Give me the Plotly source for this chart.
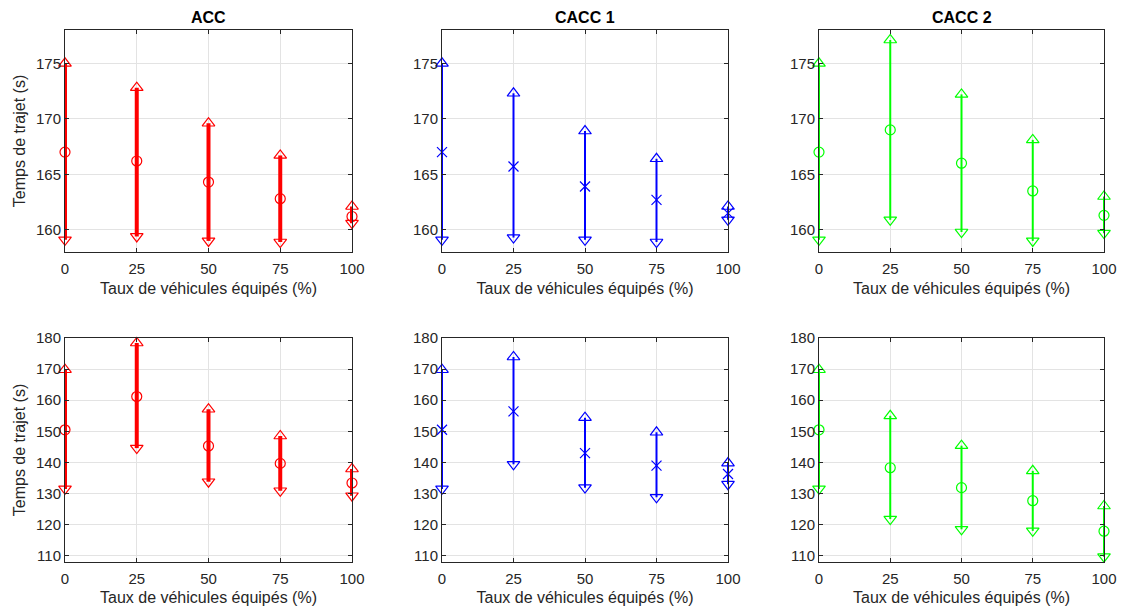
import plotly.graph_objects as go

# ---------------- data ----------------
rates = [0, 25, 50, 75, 100]
titles = ["ACC", "CACC 1", "CACC 2"]

# top row (scenario 1)
acc1_hi = [175.0, 172.8, 169.6, 166.7, 162.1]
acc1_mean = [167.0, 166.2, 164.3, 162.8, 161.2]
acc1_lo = [159.1, 159.4, 159.0, 158.9, 160.6]

cacc1_1_hi = [175.0, 172.3, 168.9, 166.4, 162.1]
cacc1_1_mean = [167.0, 165.7, 163.9, 162.7, 161.5]
cacc1_1_lo = [159.1, 159.3, 159.1, 158.9, 160.9]

cacc2_1_hi = [175.0, 177.1, 172.2, 168.1, 163.0]
cacc2_1_mean = [167.0, 169.0, 166.0, 163.5, 161.3]
cacc2_1_lo = [159.1, 160.9, 159.8, 159.0, 159.7]

# bottom row (scenario 2)
acc2_hi = [169.8, 178.4, 157.1, 148.5, 137.9]
acc2_mean = [150.5, 161.2, 145.3, 139.7, 133.4]
acc2_lo = [131.5, 144.6, 133.8, 130.9, 129.3]

cacc1_2_hi = [169.8, 173.9, 154.4, 149.7, 139.8]
cacc1_2_mean = [150.5, 156.4, 143.0, 139.0, 136.3]
cacc1_2_lo = [131.5, 139.4, 131.9, 128.8, 133.0]

cacc2_2_hi = [169.8, 155.0, 145.4, 137.3, 126.0]
cacc2_2_mean = [150.5, 138.3, 131.9, 127.7, 117.9]
cacc2_2_lo = [131.5, 121.8, 118.5, 118.0, 109.7]

y_ticks_top = [160, 165, 170, 175]
y_ticks_bottom = [110, 120, 130, 140, 150, 160, 170, 180]
y_range_top = [158, 178]
y_range_bottom = [108, 180]

x_title = "Taux de véhicules équipés (%)"
y_title = "Temps de trajet (s)"

# ---------------- styling ----------------
colors = ["#ff0000", "#0000ff", "#00ff00"]
line_widths = [4, 2, 2]
mean_symbols = ["circle-open", "x-thin-open", "circle-open"]
FONT = "Liberation Sans, Arial, Helvetica, sans-serif"
TXT = "#262626"

# page body has an 8px margin: size the figure so it fits the window exactly
OFF = 8
W, H = 1125 - 2 * OFF, 614 - 2 * OFF
col_px = [(65, 352), (442, 728), (819, 1104)]
row_px = [(30, 252), (338, 562)]

panels = [
    [(acc1_lo, acc1_mean, acc1_hi), (cacc1_1_lo, cacc1_1_mean, cacc1_1_hi), (cacc2_1_lo, cacc2_1_mean, cacc2_1_hi)],
    [(acc2_lo, acc2_mean, acc2_hi), (cacc1_2_lo, cacc1_2_mean, cacc1_2_hi), (cacc2_2_lo, cacc2_2_mean, cacc2_2_hi)],
]

fig = go.Figure()
layout = {}
annotations = []

idx = 0
for r in range(2):
    for c in range(3):
        idx += 1
        xa = "x" if idx == 1 else f"x{idx}"
        ya = "y" if idx == 1 else f"y{idx}"
        lo, mean, hi = panels[r][c]
        col = colors[c]
        xs, ys = [], []
        for xv, l, h in zip(rates, lo, hi):
            xs += [xv, xv, None]
            ys += [l, h, None]
        fig.add_trace(go.Scatter(x=xs, y=ys, mode="lines", xaxis=xa, yaxis=ya,
                                 line=dict(color=col, width=line_widths[c]),
                                 showlegend=False, hoverinfo="skip", cliponaxis=False))
        fig.add_trace(go.Scatter(x=rates, y=hi, mode="markers", xaxis=xa, yaxis=ya,
                                 marker=dict(symbol="triangle-up-open", size=11, color=col,
                                             line=dict(width=1.2, color=col)),
                                 showlegend=False, cliponaxis=False))
        fig.add_trace(go.Scatter(x=rates, y=lo, mode="markers", xaxis=xa, yaxis=ya,
                                 marker=dict(symbol="triangle-down-open", size=11, color=col,
                                             line=dict(width=1.2, color=col)),
                                 showlegend=False, cliponaxis=False))
        fig.add_trace(go.Scatter(x=rates, y=mean, mode="markers", xaxis=xa, yaxis=ya,
                                 marker=dict(symbol=mean_symbols[c], size=10, color=col,
                                             line=dict(width=1.2, color=col)),
                                 showlegend=False, cliponaxis=False))

        x0, x1 = [v - OFF for v in col_px[c]]
        y0, y1 = [v - OFF for v in row_px[r]]
        xkey = "xaxis" if idx == 1 else f"xaxis{idx}"
        ykey = "yaxis" if idx == 1 else f"yaxis{idx}"
        layout[xkey] = dict(
            domain=[x0 / W, x1 / W], anchor=ya, range=[0, 100], automargin=False,
            tickvals=rates, ticks="inside", ticklen=4, tickcolor=TXT,
            ticklabelstandoff=3,
            showline=True, linecolor=TXT, linewidth=1, mirror="ticks",
            showgrid=True, gridcolor="#e3e3e3", gridwidth=1, zeroline=False,
            tickfont=dict(family=FONT, size=15, color=TXT),
            title=dict(text=x_title, font=dict(family=FONT, size=16, color=TXT), standoff=6),
        )
        layout[ykey] = dict(
            domain=[1 - y1 / H, 1 - y0 / H], anchor=xa, automargin=False,
            range=y_range_top if r == 0 else y_range_bottom,
            tickvals=y_ticks_top if r == 0 else y_ticks_bottom,
            ticks="inside", ticklen=4, tickcolor=TXT,
            showline=True, linecolor=TXT, linewidth=1, mirror="ticks",
            showgrid=True, gridcolor="#e3e3e3", gridwidth=1, zeroline=False,
            tickfont=dict(family=FONT, size=15, color=TXT),
            title=dict(text=y_title if c == 0 else "", font=dict(family=FONT, size=16, color=TXT), standoff=6),
        )
        if r == 0:
            annotations.append(dict(text=f"<b>{titles[c]}</b>", xref="paper", yref="paper",
                                    x=(x0 + x1) / 2 / W, y=1.0, showarrow=False,
                                    xanchor="center", yanchor="top", borderpad=0,
                                    font=dict(family=FONT, size=16, color="#000000")))

fig.update_layout(**layout)
fig.update_layout(
    width=W, height=H, margin=dict(l=0, r=0, t=0, b=0, autoexpand=False),
    paper_bgcolor="white", plot_bgcolor="white",
    annotations=annotations, showlegend=False,
)

fig.write_html("out.html")
